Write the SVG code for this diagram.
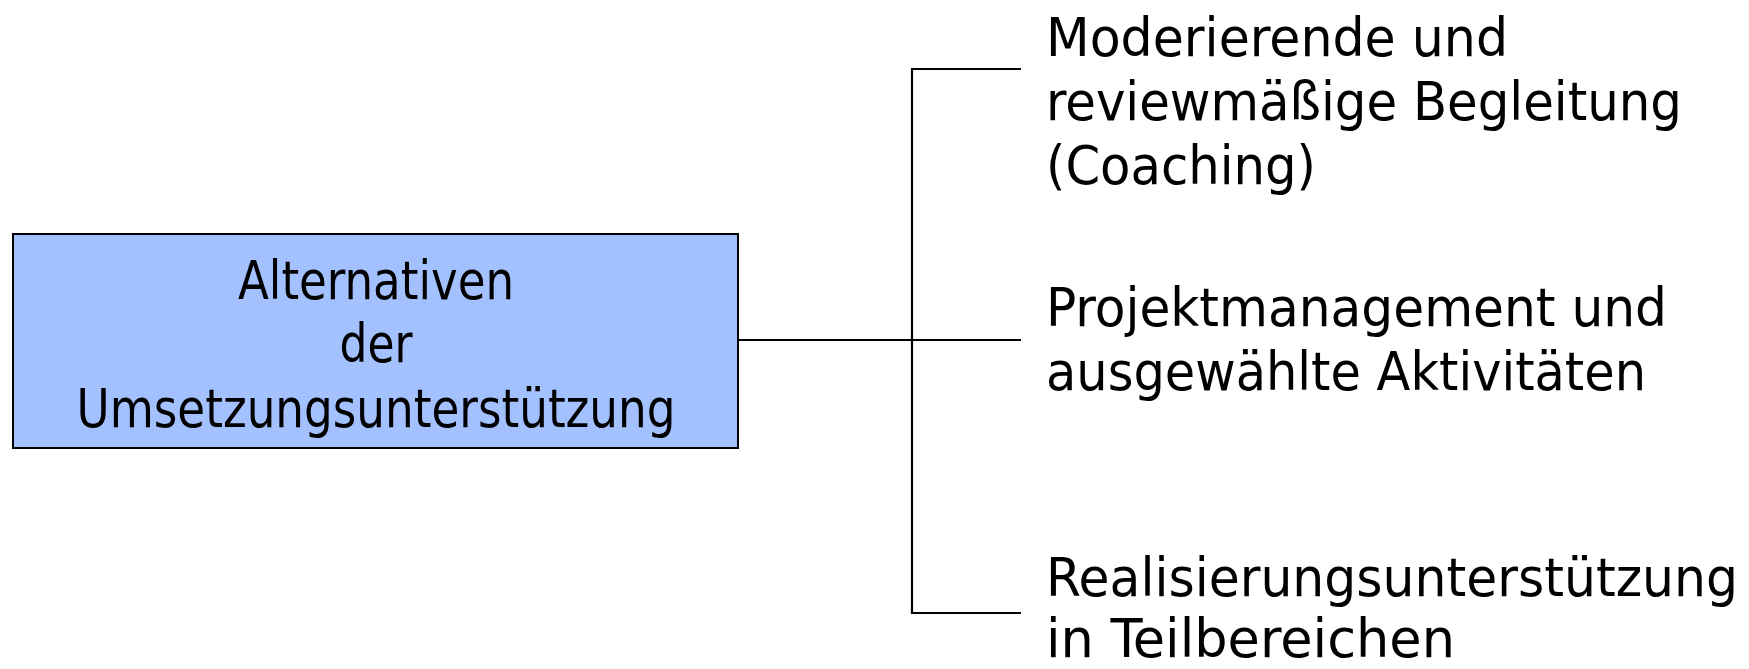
<svg xmlns="http://www.w3.org/2000/svg" width="1749" height="669" viewBox="0 0 1749 669">
  <style>
    .lbl { font-family: "Liberation Sans Narrow", "DejaVu Sans Condensed", "Liberation Sans", sans-serif; font-size: 54px; fill: #000; }
    .box { fill: #a4c1ff; stroke: #000; stroke-width: 2; }
    .wire { fill: none; stroke: #000; stroke-width: 2.2; }
  </style>
  <rect width="1749" height="669" fill="#fff"/>

  <g id="root">
    <rect class="box" x="13" y="234" width="725" height="214"/>
    <text class="lbl" x="376" y="299" text-anchor="middle" textLength="276" lengthAdjust="spacingAndGlyphs">Alternativen</text>
    <text class="lbl" x="376" y="362" text-anchor="middle" textLength="73" lengthAdjust="spacingAndGlyphs">der</text>
    <text class="lbl" x="376" y="427" text-anchor="middle" textLength="599" lengthAdjust="spacingAndGlyphs">Umsetzungsunterstützung</text>
  </g>

  <g id="connectors">
    <path class="wire" d="M738 340 H912"/>
    <path class="wire" d="M1021 69 H912 V613 H1021"/>
    <path class="wire" d="M912 340 H1021"/>
  </g>

  <g id="coaching">
    <text class="lbl" x="1046" y="56" textLength="462" lengthAdjust="spacingAndGlyphs">Moderierende und</text>
    <text class="lbl" x="1046" y="120" textLength="636" lengthAdjust="spacingAndGlyphs">reviewmäßige Begleitung</text>
    <text class="lbl" x="1046" y="184" textLength="270" lengthAdjust="spacingAndGlyphs">(Coaching)</text>
  </g>

  <g id="projektmanagement">
    <text class="lbl" x="1046" y="326" textLength="621" lengthAdjust="spacingAndGlyphs">Projektmanagement und</text>
    <text class="lbl" x="1046" y="390" textLength="600" lengthAdjust="spacingAndGlyphs">ausgewählte Aktivitäten</text>
  </g>

  <g id="realisierung">
    <text class="lbl" x="1046" y="596" textLength="692" lengthAdjust="spacingAndGlyphs">Realisierungsunterstützung</text>
    <text class="lbl" x="1046" y="657" textLength="409" lengthAdjust="spacingAndGlyphs">in Teilbereichen</text>
  </g>
</svg>
